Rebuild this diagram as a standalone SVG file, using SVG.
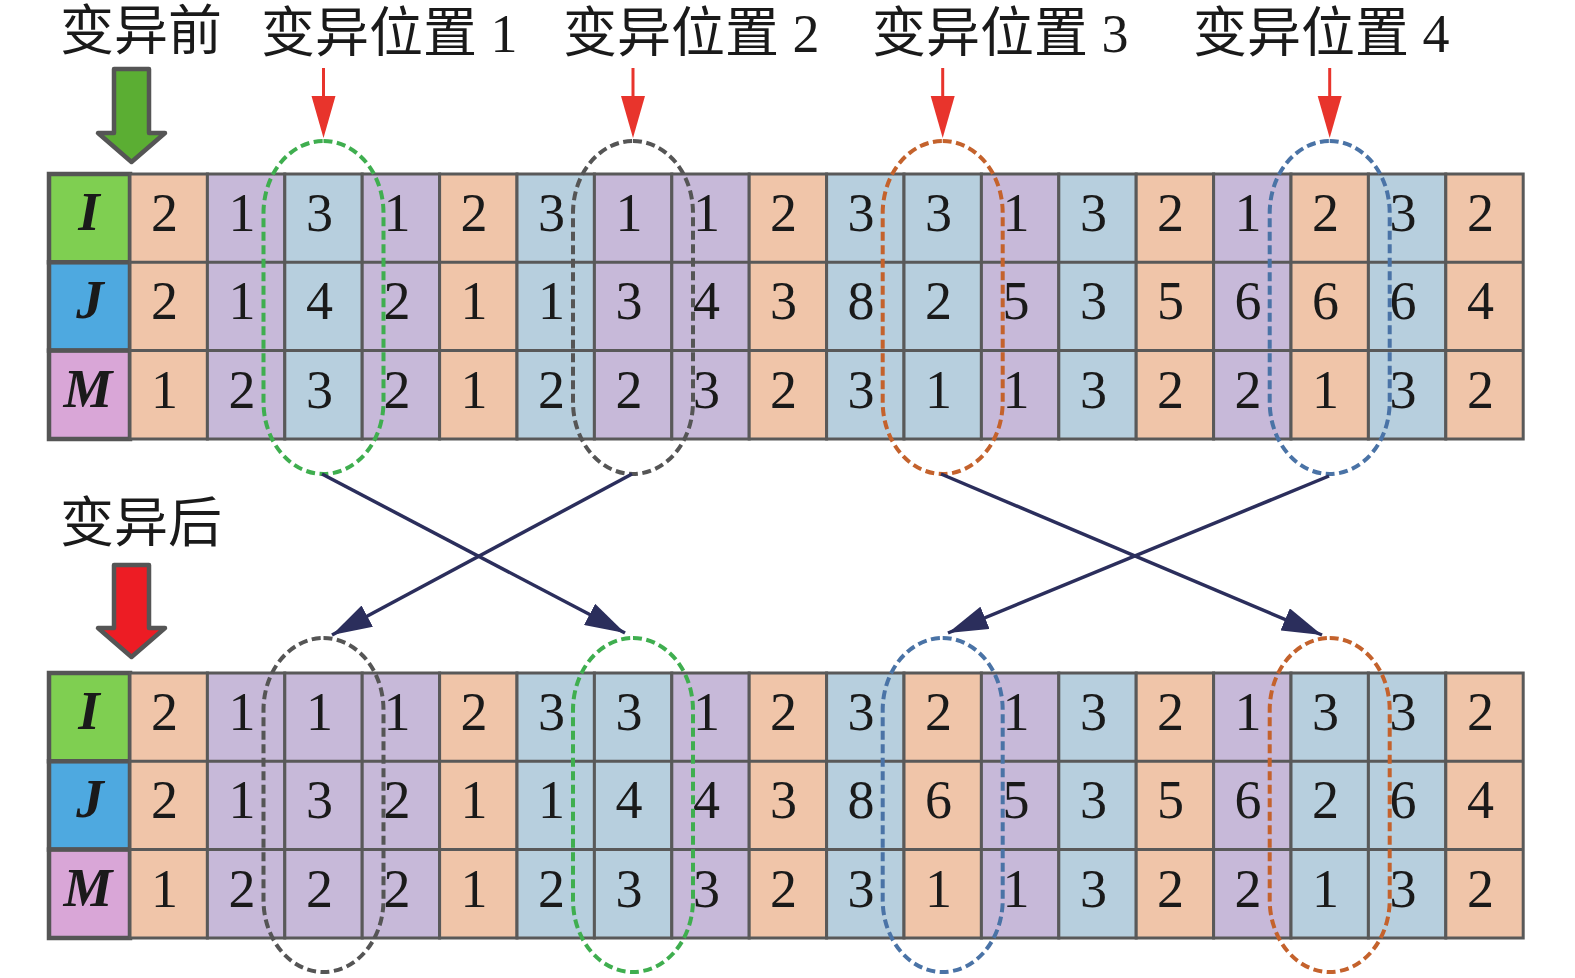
<svg xmlns="http://www.w3.org/2000/svg" width="1575" height="978" viewBox="0 0 1575 978">
<style>
.o{fill:#f0c5a9;stroke:#595959;stroke-width:3}
.p{fill:#c7b9d9;stroke:#595959;stroke-width:3}
.b{fill:#b7cfde;stroke:#595959;stroke-width:3}
.rl{stroke:#595959;stroke-width:3}
.d{font-family:"Liberation Serif","Times New Roman",serif;font-size:54px;fill:#1a1a1a;text-anchor:middle}
.h{font-family:"Liberation Serif","Times New Roman",serif;font-size:55px;font-weight:bold;font-style:italic;fill:#1a1a1a;text-anchor:middle}
.hc{stroke:#555;stroke-width:4.5}
.lbl{font-family:"Liberation Serif","Noto Sans CJK SC",serif;font-size:54px;fill:#1a1a1a}
.el{fill:none;stroke-width:4;stroke-dasharray:9 4.5}
.eg{stroke:#3fae4f}.ek{stroke:#555}.eo{stroke:#c4622c}.eb{stroke:#4a73a6}
.con{stroke:#2b2e5c;stroke-width:3.5;fill:none}
.ra{stroke:#e8342c;stroke-width:3;fill:none}
</style>
<defs>
<marker id="ah" viewBox="0 0 40 24" refX="40" refY="12" markerWidth="40" markerHeight="24" markerUnits="userSpaceOnUse" orient="auto">
<path d="M0,0 L40,12 L0,24 z" fill="#2b2e5c"/>
</marker>
</defs>

<g id="labels">
<text class="lbl" x="60" y="50">变异前</text>
<text class="lbl" x="261" y="52">变异位置 1</text>
<text class="lbl" x="563" y="52">变异位置 2</text>
<text class="lbl" x="872" y="52">变异位置 3</text>
<text class="lbl" x="1193" y="52">变异位置 4</text>
<text class="lbl" x="60" y="542">变异后</text>
</g>

<g id="arrow-before">
<polygon points="114,69 149,69 149,133 165,133 131.5,162 98,133 114,133" fill="#5bae33" stroke="#555" stroke-width="4.5" stroke-linejoin="round"/>
</g>
<g id="arrow-after">
<polygon points="114,565 149,565 149,628 165,628 131.5,657 98,628 114,628" fill="#ed1c24" stroke="#555" stroke-width="4.5" stroke-linejoin="round"/>
</g>

<g id="pos-arrows">
<line class="ra" x1="323.5" y1="68" x2="323.5" y2="100"/><polygon points="311.5,96 335.5,96 323.5,138" fill="#e8342c"/>
<line class="ra" x1="633" y1="68" x2="633" y2="100"/><polygon points="621,96 645,96 633,138" fill="#e8342c"/>
<line class="ra" x1="942.7" y1="68" x2="942.7" y2="100"/><polygon points="930.7,96 954.7,96 942.7,138" fill="#e8342c"/>
<line class="ra" x1="1329.7" y1="68" x2="1329.7" y2="100"/><polygon points="1317.7,96 1341.7,96 1329.7,138" fill="#e8342c"/>
</g>

<g id="grid-top">
<g id="top-header">
<rect class="hc" x="49" y="174" width="81" height="88.3" fill="#7fcf51"/>
<rect class="hc" x="49" y="262.3" width="81" height="88.3" fill="#4ea9e0"/>
<rect class="hc" x="49" y="350.6" width="81" height="88.4" fill="#d9a6d7"/>
<text class="h" x="89" y="230">I</text>
<text class="h" x="90" y="318">J</text>
<text class="h" x="88" y="407">M</text>
</g>
<g id="top-c1"><rect class="o" x="130" y="174" width="77.4" height="265"/><text class="d" x="164.5" y="231">2</text><text class="d" x="164.5" y="319">2</text><text class="d" x="164.5" y="408">1</text></g>
<g id="top-c2"><rect class="p" x="207.4" y="174" width="77.4" height="265"/><text class="d" x="242" y="231">1</text><text class="d" x="242" y="319">1</text><text class="d" x="242" y="408">2</text></g>
<g id="top-c3"><rect class="b" x="284.8" y="174" width="77.4" height="265"/><text class="d" x="319.5" y="231">3</text><text class="d" x="319.5" y="319">4</text><text class="d" x="319.5" y="408">3</text></g>
<g id="top-c4"><rect class="p" x="362.2" y="174" width="77.4" height="265"/><text class="d" x="397" y="231">1</text><text class="d" x="397" y="319">2</text><text class="d" x="397" y="408">2</text></g>
<g id="top-c5"><rect class="o" x="439.6" y="174" width="77.4" height="265"/><text class="d" x="474" y="231">2</text><text class="d" x="474" y="319">1</text><text class="d" x="474" y="408">1</text></g>
<g id="top-c6"><rect class="b" x="517" y="174" width="77.4" height="265"/><text class="d" x="551.5" y="231">3</text><text class="d" x="551.5" y="319">1</text><text class="d" x="551.5" y="408">2</text></g>
<g id="top-c7"><rect class="p" x="594.4" y="174" width="77.4" height="265"/><text class="d" x="629" y="231">1</text><text class="d" x="629" y="319">3</text><text class="d" x="629" y="408">2</text></g>
<g id="top-c8"><rect class="p" x="671.8" y="174" width="77.4" height="265"/><text class="d" x="706.5" y="231">1</text><text class="d" x="706.5" y="319">4</text><text class="d" x="706.5" y="408">3</text></g>
<g id="top-c9"><rect class="o" x="749.2" y="174" width="77.4" height="265"/><text class="d" x="783.5" y="231">2</text><text class="d" x="783.5" y="319">3</text><text class="d" x="783.5" y="408">2</text></g>
<g id="top-c10"><rect class="b" x="826.6" y="174" width="77.4" height="265"/><text class="d" x="861" y="231">3</text><text class="d" x="861" y="319">8</text><text class="d" x="861" y="408">3</text></g>
<g id="top-c11"><rect class="b" x="904" y="174" width="77.4" height="265"/><text class="d" x="938.5" y="231">3</text><text class="d" x="938.5" y="319">2</text><text class="d" x="938.5" y="408">1</text></g>
<g id="top-c12"><rect class="p" x="981.4" y="174" width="77.4" height="265"/><text class="d" x="1016" y="231">1</text><text class="d" x="1016" y="319">5</text><text class="d" x="1016" y="408">1</text></g>
<g id="top-c13"><rect class="b" x="1058.8" y="174" width="77.4" height="265"/><text class="d" x="1093.5" y="231">3</text><text class="d" x="1093.5" y="319">3</text><text class="d" x="1093.5" y="408">3</text></g>
<g id="top-c14"><rect class="o" x="1136.2" y="174" width="77.4" height="265"/><text class="d" x="1170.5" y="231">2</text><text class="d" x="1170.5" y="319">5</text><text class="d" x="1170.5" y="408">2</text></g>
<g id="top-c15"><rect class="p" x="1213.6" y="174" width="77.4" height="265"/><text class="d" x="1248" y="231">1</text><text class="d" x="1248" y="319">6</text><text class="d" x="1248" y="408">2</text></g>
<g id="top-c16"><rect class="o" x="1291" y="174" width="77.4" height="265"/><text class="d" x="1325.5" y="231">2</text><text class="d" x="1325.5" y="319">6</text><text class="d" x="1325.5" y="408">1</text></g>
<g id="top-c17"><rect class="b" x="1368.4" y="174" width="77.4" height="265"/><text class="d" x="1403" y="231">3</text><text class="d" x="1403" y="319">6</text><text class="d" x="1403" y="408">3</text></g>
<g id="top-c18"><rect class="o" x="1445.8" y="174" width="77.4" height="265"/><text class="d" x="1480.5" y="231">2</text><text class="d" x="1480.5" y="319">4</text><text class="d" x="1480.5" y="408">2</text></g>
<line class="rl" x1="130" y1="262.3" x2="1523.2" y2="262.3"/>
<line class="rl" x1="130" y1="350.6" x2="1523.2" y2="350.6"/>
</g>

<g id="grid-bottom">
<g id="bot-header">
<rect class="hc" x="49" y="673" width="81" height="88.3" fill="#7fcf51"/>
<rect class="hc" x="49" y="761.3" width="81" height="88.3" fill="#4ea9e0"/>
<rect class="hc" x="49" y="849.6" width="81" height="88.4" fill="#d9a6d7"/>
<text class="h" x="89" y="729">I</text>
<text class="h" x="90" y="817">J</text>
<text class="h" x="88" y="906">M</text>
</g>
<g id="bot-c1"><rect class="o" x="130" y="673" width="77.4" height="265"/><text class="d" x="164.5" y="730">2</text><text class="d" x="164.5" y="818">2</text><text class="d" x="164.5" y="907">1</text></g>
<g id="bot-c2"><rect class="p" x="207.4" y="673" width="77.4" height="265"/><text class="d" x="242" y="730">1</text><text class="d" x="242" y="818">1</text><text class="d" x="242" y="907">2</text></g>
<g id="bot-c3"><rect class="p" x="284.8" y="673" width="77.4" height="265"/><text class="d" x="319.5" y="730">1</text><text class="d" x="319.5" y="818">3</text><text class="d" x="319.5" y="907">2</text></g>
<g id="bot-c4"><rect class="p" x="362.2" y="673" width="77.4" height="265"/><text class="d" x="397" y="730">1</text><text class="d" x="397" y="818">2</text><text class="d" x="397" y="907">2</text></g>
<g id="bot-c5"><rect class="o" x="439.6" y="673" width="77.4" height="265"/><text class="d" x="474" y="730">2</text><text class="d" x="474" y="818">1</text><text class="d" x="474" y="907">1</text></g>
<g id="bot-c6"><rect class="b" x="517" y="673" width="77.4" height="265"/><text class="d" x="551.5" y="730">3</text><text class="d" x="551.5" y="818">1</text><text class="d" x="551.5" y="907">2</text></g>
<g id="bot-c7"><rect class="b" x="594.4" y="673" width="77.4" height="265"/><text class="d" x="629" y="730">3</text><text class="d" x="629" y="818">4</text><text class="d" x="629" y="907">3</text></g>
<g id="bot-c8"><rect class="p" x="671.8" y="673" width="77.4" height="265"/><text class="d" x="706.5" y="730">1</text><text class="d" x="706.5" y="818">4</text><text class="d" x="706.5" y="907">3</text></g>
<g id="bot-c9"><rect class="o" x="749.2" y="673" width="77.4" height="265"/><text class="d" x="783.5" y="730">2</text><text class="d" x="783.5" y="818">3</text><text class="d" x="783.5" y="907">2</text></g>
<g id="bot-c10"><rect class="b" x="826.6" y="673" width="77.4" height="265"/><text class="d" x="861" y="730">3</text><text class="d" x="861" y="818">8</text><text class="d" x="861" y="907">3</text></g>
<g id="bot-c11"><rect class="o" x="904" y="673" width="77.4" height="265"/><text class="d" x="938.5" y="730">2</text><text class="d" x="938.5" y="818">6</text><text class="d" x="938.5" y="907">1</text></g>
<g id="bot-c12"><rect class="p" x="981.4" y="673" width="77.4" height="265"/><text class="d" x="1016" y="730">1</text><text class="d" x="1016" y="818">5</text><text class="d" x="1016" y="907">1</text></g>
<g id="bot-c13"><rect class="b" x="1058.8" y="673" width="77.4" height="265"/><text class="d" x="1093.5" y="730">3</text><text class="d" x="1093.5" y="818">3</text><text class="d" x="1093.5" y="907">3</text></g>
<g id="bot-c14"><rect class="o" x="1136.2" y="673" width="77.4" height="265"/><text class="d" x="1170.5" y="730">2</text><text class="d" x="1170.5" y="818">5</text><text class="d" x="1170.5" y="907">2</text></g>
<g id="bot-c15"><rect class="p" x="1213.6" y="673" width="77.4" height="265"/><text class="d" x="1248" y="730">1</text><text class="d" x="1248" y="818">6</text><text class="d" x="1248" y="907">2</text></g>
<g id="bot-c16"><rect class="b" x="1291" y="673" width="77.4" height="265"/><text class="d" x="1325.5" y="730">3</text><text class="d" x="1325.5" y="818">2</text><text class="d" x="1325.5" y="907">1</text></g>
<g id="bot-c17"><rect class="b" x="1368.4" y="673" width="77.4" height="265"/><text class="d" x="1403" y="730">3</text><text class="d" x="1403" y="818">6</text><text class="d" x="1403" y="907">3</text></g>
<g id="bot-c18"><rect class="o" x="1445.8" y="673" width="77.4" height="265"/><text class="d" x="1480.5" y="730">2</text><text class="d" x="1480.5" y="818">4</text><text class="d" x="1480.5" y="907">2</text></g>
<line class="rl" x1="130" y1="761.3" x2="1523.2" y2="761.3"/>
<line class="rl" x1="130" y1="849.6" x2="1523.2" y2="849.6"/>
</g>

<g id="ellipses">
<rect class="el eg" x="263.5" y="141" width="120" height="333" rx="60" ry="72"/>
<rect class="el ek" x="573" y="141" width="120" height="333" rx="60" ry="72"/>
<rect class="el eo" x="882.7" y="141" width="120" height="333" rx="60" ry="72"/>
<rect class="el eb" x="1269.7" y="141" width="120" height="333" rx="60" ry="72"/>
<rect class="el ek" x="263.5" y="638" width="120" height="334" rx="60" ry="72"/>
<rect class="el eg" x="573" y="638" width="120" height="334" rx="60" ry="72"/>
<rect class="el eb" x="882.7" y="638" width="120" height="334" rx="60" ry="72"/>
<rect class="el eo" x="1269.7" y="638" width="120" height="334" rx="60" ry="72"/>
</g>

<g id="connectors">
<line class="con" x1="322" y1="474" x2="625" y2="633" marker-end="url(#ah)"/>
<line class="con" x1="632" y1="474" x2="332" y2="635" marker-end="url(#ah)"/>
<line class="con" x1="941" y1="474" x2="1322" y2="635" marker-end="url(#ah)"/>
<line class="con" x1="1329" y1="476" x2="948" y2="633" marker-end="url(#ah)"/>
</g>
</svg>
